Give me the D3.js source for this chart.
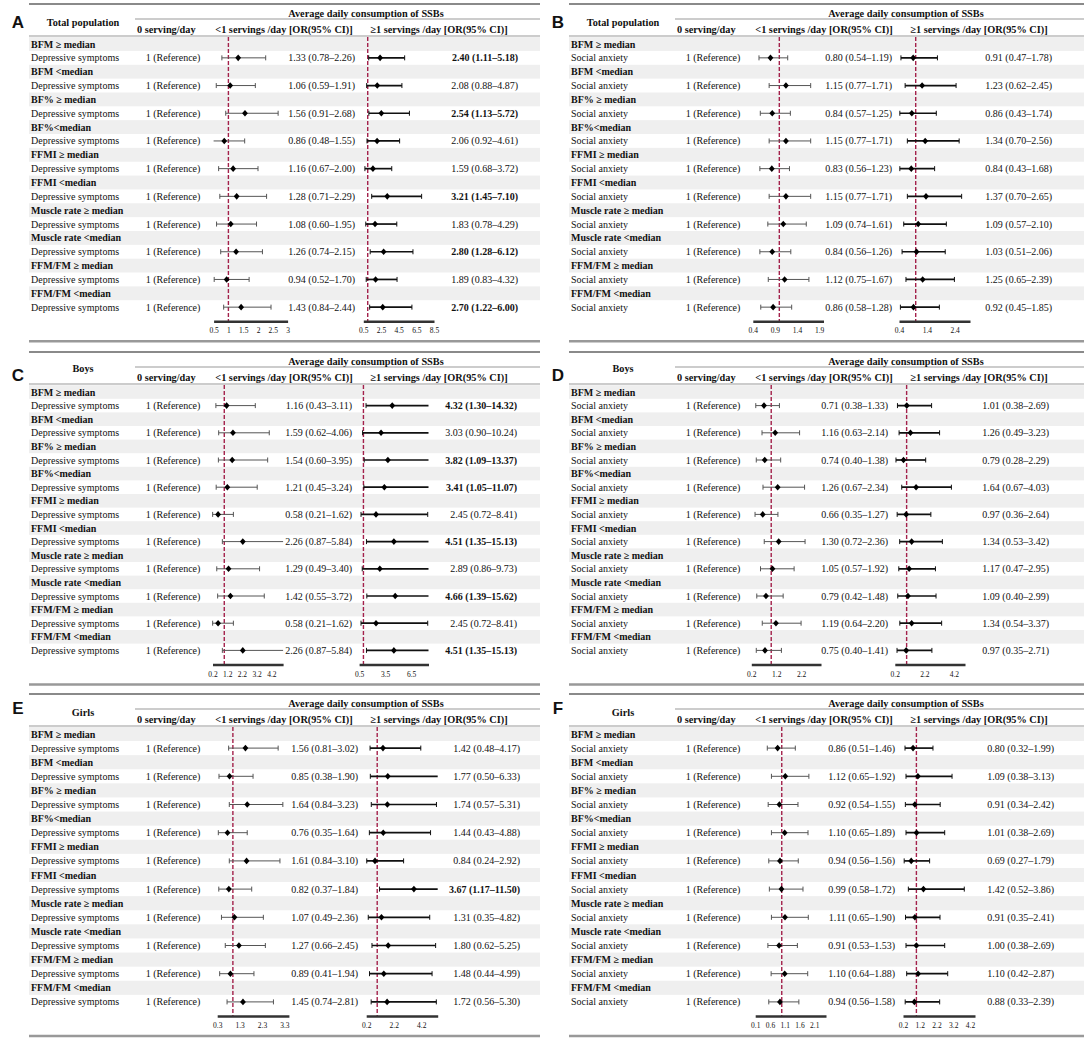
<!DOCTYPE html>
<html lang="en">
<head>
  <meta charset="UTF-8">
  <title>SSBs and body composition - forest plots</title>
  <style>
    body { margin: 0; background: #fff; }
    text { font-family: "Liberation Serif", "Times New Roman", serif; fill: #111; }
  </style>
</head>
<body>
  <svg id="svg" width="1084" height="1038"></svg>
  <script src="https://cdn.jsdelivr.net/npm/d3@7"></script>
  <script>
    // ---- data: [OR, lower, upper] ----
    const groups = ['BFM \u2265 median', 'BFM <median', 'BF% \u2265 median', 'BF%<median',
      'FFMI \u2265 median', 'FFMI <median', 'Muscle rate \u2265 median', 'Muscle rate <median',
      'FFM/FM \u2265 median', 'FFM/FM <median']
    const letters = ['A', 'B', 'C', 'D', 'E', 'F']
    const populations = ['Total population', 'Total population', 'Boys', 'Boys', 'Girls', 'Girls']
    const outcomes = ['Depressive symptoms', 'Social anxiety', 'Depressive symptoms', 'Social anxiety',
      'Depressive symptoms', 'Social anxiety']
    const colHeaders = ['0 serving/day', '<1 servings /day [OR(95% CI)]', '\u22651 servings /day [OR(95% CI)]']
    const spanHeader = 'Average daily consumption of SSBs'
    const refText = '1 (Reference)'

    const lessA = [[1.33,0.78,2.26],[1.06,0.59,1.91],[1.56,0.91,2.68],[0.86,0.48,1.55],[1.16,0.67,2.00],
      [1.28,0.71,2.29],[1.08,0.60,1.95],[1.26,0.74,2.15],[0.94,0.52,1.70],[1.43,0.84,2.44]]
    const moreA = [[2.40,1.11,5.18],[2.08,0.88,4.87],[2.54,1.13,5.72],[2.06,0.92,4.61],[1.59,0.68,3.72],
      [3.21,1.45,7.10],[1.83,0.78,4.29],[2.80,1.28,6.12],[1.89,0.83,4.32],[2.70,1.22,6.00]]
    const lessB = [[0.80,0.54,1.19],[1.15,0.77,1.71],[0.84,0.57,1.25],[1.15,0.77,1.71],[0.83,0.56,1.23],
      [1.15,0.77,1.71],[1.09,0.74,1.61],[0.84,0.56,1.26],[1.12,0.75,1.67],[0.86,0.58,1.28]]
    const moreB = [[0.91,0.47,1.78],[1.23,0.62,2.45],[0.86,0.43,1.74],[1.34,0.70,2.56],[0.84,0.43,1.68],
      [1.37,0.70,2.65],[1.09,0.57,2.10],[1.03,0.51,2.06],[1.25,0.65,2.39],[0.92,0.45,1.85]]
    const lessC = [[1.16,0.43,3.11],[1.59,0.62,4.06],[1.54,0.60,3.95],[1.21,0.45,3.24],[0.58,0.21,1.62],
      [2.26,0.87,5.84],[1.29,0.49,3.40],[1.42,0.55,3.72],[0.58,0.21,1.62],[2.26,0.87,5.84]]
    const moreC = [[4.32,1.30,14.32],[3.03,0.90,10.24],[3.82,1.09,13.37],[3.41,1.05,11.07],[2.45,0.72,8.41],
      [4.51,1.35,15.13],[2.89,0.86,9.73],[4.66,1.39,15.62],[2.45,0.72,8.41],[4.51,1.35,15.13]]
    const lessD = [[0.71,0.38,1.33],[1.16,0.63,2.14],[0.74,0.40,1.38],[1.26,0.67,2.34],[0.66,0.35,1.27],
      [1.30,0.72,2.36],[1.05,0.57,1.92],[0.79,0.42,1.48],[1.19,0.64,2.20],[0.75,0.40,1.41]]
    const moreD = [[1.01,0.38,2.69],[1.26,0.49,3.23],[0.79,0.28,2.29],[1.64,0.67,4.03],[0.97,0.36,2.64],
      [1.34,0.53,3.42],[1.17,0.47,2.95],[1.09,0.40,2.99],[1.34,0.54,3.37],[0.97,0.35,2.71]]
    const lessE = [[1.56,0.81,3.02],[0.85,0.38,1.90],[1.64,0.84,3.23],[0.76,0.35,1.64],[1.61,0.84,3.10],
      [0.82,0.37,1.84],[1.07,0.49,2.36],[1.27,0.66,2.45],[0.89,0.41,1.94],[1.45,0.74,2.81]]
    const moreE = [[1.42,0.48,4.17],[1.77,0.50,6.33],[1.74,0.57,5.31],[1.44,0.43,4.88],[0.84,0.24,2.92],
      [3.67,1.17,11.50],[1.31,0.35,4.82],[1.80,0.62,5.25],[1.48,0.44,4.99],[1.72,0.56,5.30]]
    const lessF = [[0.86,0.51,1.46],[1.12,0.65,1.92],[0.92,0.54,1.55],[1.10,0.65,1.89],[0.94,0.56,1.56],
      [0.99,0.58,1.72],[1.11,0.65,1.90],[0.91,0.53,1.53],[1.10,0.64,1.88],[0.94,0.56,1.58]]
    const moreF = [[0.80,0.32,1.99],[1.09,0.38,3.13],[0.91,0.34,2.42],[1.01,0.38,2.69],[0.69,0.27,1.79],
      [1.42,0.52,3.86],[0.91,0.35,2.41],[1.00,0.38,2.69],[1.10,0.42,2.87],[0.88,0.33,2.39]]

    // axis extents and tick labels of each small plot
    const domLess = [[0.5, 3], [0.4, 2.0], [0.2, 5.0], [0.2, 3.0], [0.3, 3.5], [0.1, 2.5]]
    const domMore = [[0.5, 8.5], [0.4, 2.95], [0.5, 8.5], [0.2, 4.95], [0.2, 5.4], [0.2, 4.5]]
    const ticksLess = [[0.5, 1, 1.5, 2, 2.5, 3], [0.4, 0.9, 1.4, 1.9], [0.2, 1.2, 2.2, 3.2, 4.2],
      [0.2, 1.2, 2.2], [0.3, 1.3, 2.3, 3.3], [0.1, 0.6, 1.1, 1.6, 2.1]]
    const ticksMore = [[0.5, 2.5, 4.5, 6.5, 8.5], [0.4, 1.4, 2.4], [0.5, 3.5, 6.5],
      [0.2, 2.2, 4.2], [0.2, 2.2, 4.2], [0.2, 1.2, 2.2, 3.2, 4.2]]

    const lessData = [lessA, lessB, lessC, lessD, lessE, lessF]
    const moreData = [moreA, moreB, moreC, moreD, moreE, moreF]

    // ---- layout ----
    const rowLayout = [
      { y0: 4, rowH: 13.85, letterDy: 18, titleDy: 18 },
      { y0: 352, rowH: 13.6, letterDy: 23, titleDy: 16 },
      { y0: 694, rowH: 14.1, letterDy: 14, titleDy: 18 }
    ]
    const rangeLess = [[213.6, 287.6], [752.8, 823.5], [212.5, 283.1], [751.3, 821], [217.2, 288.9], [755.2, 826]]
    const rangeMore = [[363.3, 434], [899, 970], [359.1, 428.5], [894.8, 965], [366.2, 437.7], [903, 975]]
    const orRight = [[355, 518], [352, 512], [352, 517], [348, 509], [358, 520], [355, 514]]

    const svg = d3.select('#svg')
    const fmt = d3.format('.2f')
    const orLabel = d => `${fmt(d[0])} (${fmt(d[1])}\u2013${fmt(d[2])})`

    letters.forEach((letter, i) => {
      const col = i % 2
      const L = rowLayout[Math.floor(i / 2)]
      const x0 = col * 540
      const x1 = col ? 1084 : 540
      const rowY = k => L.y0 + 40 + k * L.rowH
      const lastY = rowY(19)
      const axisY = lastY + 14
      const g = svg.append('g')

      // shaded group rows
      g.selectAll('rect.band')
        .data(groups)
        .join('rect')
        .attr('x', x0 + 29)
        .attr('y', (d, k) => rowY(2 * k) - L.rowH / 2)
        .attr('width', x1 - x0 - 29)
        .attr('height', L.rowH)
        .attr('fill', '#efefef')

      // rules
      g.append('line').attr('x1', x0 + 29).attr('x2', x1).attr('y1', L.y0).attr('y2', L.y0)
        .attr('stroke', '#8a8a8a').attr('stroke-width', 2)
      g.append('line').attr('x1', x0 + 135).attr('x2', x1).attr('y1', L.y0 + 15).attr('y2', L.y0 + 15)
        .attr('stroke', '#999').attr('stroke-width', 1)
      g.append('line').attr('x1', x0 + 29).attr('x2', x1).attr('y1', L.y0 + 32).attr('y2', L.y0 + 32)
        .attr('stroke', '#999').attr('stroke-width', 1)
      g.append('line').attr('x1', x0 + 29).attr('x2', x1).attr('y1', lastY + 34).attr('y2', lastY + 34)
        .attr('stroke', '#999').attr('stroke-width', 2.5)

      // panel letter and headers
      g.append('text').text(letter)
        .attr('x', x0 + 18).attr('y', L.y0 + L.letterDy).attr('dy', '0.35em')
        .attr('text-anchor', 'middle')
        .style('font-family', '"Liberation Sans", Arial, sans-serif')
        .style('font-weight', 'bold').style('font-size', '17px')
      g.append('text').text(populations[i])
        .attr('x', x0 + 83).attr('y', L.y0 + L.titleDy).attr('dy', '0.35em')
        .attr('text-anchor', 'middle').style('font-weight', 'bold').style('font-size', '10.3px')
      g.append('text').text(spanHeader)
        .attr('x', x0 + 366).attr('y', L.y0 + 9).attr('dy', '0.35em')
        .attr('text-anchor', 'middle').style('font-weight', 'bold').style('font-size', '10.3px')
      g.append('text').text(colHeaders[0])
        .attr('x', x0 + 137).attr('y', L.y0 + 25).attr('dy', '0.35em')
        .style('font-weight', 'bold').style('font-size', '10.3px')
      g.append('text').text(colHeaders[1])
        .attr('x', x0 + 284).attr('y', L.y0 + 25).attr('dy', '0.35em')
        .attr('text-anchor', 'middle').style('font-weight', 'bold').style('font-size', '10.3px')
      g.append('text').text(colHeaders[2])
        .attr('x', x0 + 439).attr('y', L.y0 + 25).attr('dy', '0.35em')
        .attr('text-anchor', 'middle').style('font-weight', 'bold').style('font-size', '10.3px')

      // row texts
      groups.forEach((name, k) => {
        g.append('text').text(name)
          .attr('x', x0 + 31).attr('y', rowY(2 * k)).attr('dy', '0.35em')
          .style('font-weight', 'bold').style('font-size', '10px')
        g.append('text').text(outcomes[i])
          .attr('x', x0 + 31).attr('y', rowY(2 * k + 1)).attr('dy', '0.35em')
          .style('font-size', '10px')
        g.append('text').text(refText)
          .attr('x', x0 + 173).attr('y', rowY(2 * k + 1)).attr('dy', '0.35em')
          .attr('text-anchor', 'middle').style('font-size', '10px')
      })

      // two small forest plots
      const plots = [
        { data: lessData[i], dom: domLess[i], range: rangeLess[i], ticks: ticksLess[i],
          right: x0 + orRight[i][0] - x0 * 0, color: '#555', width: 1 },
        { data: moreData[i], dom: domMore[i], range: rangeMore[i], ticks: ticksMore[i],
          right: x0 + orRight[i][1] - x0 * 0, color: '#111', width: 1.7 }
      ]
      plots.forEach(p => {
        const x = d3.scaleLinear().domain(p.dom).range(p.range).clamp(true)

        // reference line at OR = 1
        g.append('line')
          .attr('x1', x(1)).attr('x2', x(1))
          .attr('y1', L.y0 + 33).attr('y2', axisY)
          .attr('stroke', '#a3214b').attr('stroke-width', 1.4)
          .attr('stroke-dasharray', '4,2')

        const rows = g.append('g').selectAll('g')
          .data(p.data)
          .join('g')
          .attr('transform', (d, k) => `translate(0,${rowY(2 * k + 1)})`)

        rows.append('line')
          .attr('x1', d => x(d[1])).attr('x2', d => x(d[2]))
          .attr('stroke', p.color).attr('stroke-width', p.width)
        rows.filter(d => d[1] >= p.dom[0]).append('line')
          .attr('x1', d => x(d[1])).attr('x2', d => x(d[1]))
          .attr('y1', -2.5).attr('y2', 2.5)
          .attr('stroke', p.color).attr('stroke-width', 1)
        rows.filter(d => d[2] <= p.dom[1]).append('line')
          .attr('x1', d => x(d[2])).attr('x2', d => x(d[2]))
          .attr('y1', -2.5).attr('y2', 2.5)
          .attr('stroke', p.color).attr('stroke-width', 1)
        rows.append('path')
          .attr('d', d => {
            const cx = x(d[0])
            return `M${cx},-3.3L${cx + 2.9},0L${cx},3.3L${cx - 2.9},0Z`
          })
          .attr('fill', '#000')

        rows.append('text')
          .text(orLabel)
          .attr('x', p.right).attr('dy', '0.35em')
          .attr('text-anchor', 'end')
          .style('font-size', '10px')
          .style('font-weight', d => d[1] > 1 ? 'bold' : 'normal')

        // bottom axis
        const ax = g.append('g')
          .attr('transform', `translate(0,${axisY})`)
          .call(d3.axisBottom(x).tickValues(p.ticks).tickSize(0).tickSizeOuter(0)
            .tickPadding(7).tickFormat(d3.format('~g')))
        ax.select('.domain').attr('stroke', '#333').attr('stroke-width', 2.5)
        ax.selectAll('text')
          .style('font-size', '7.5px')
          .attr('fill', '#222')
      })
    })
  </script>
</body>
</html>
